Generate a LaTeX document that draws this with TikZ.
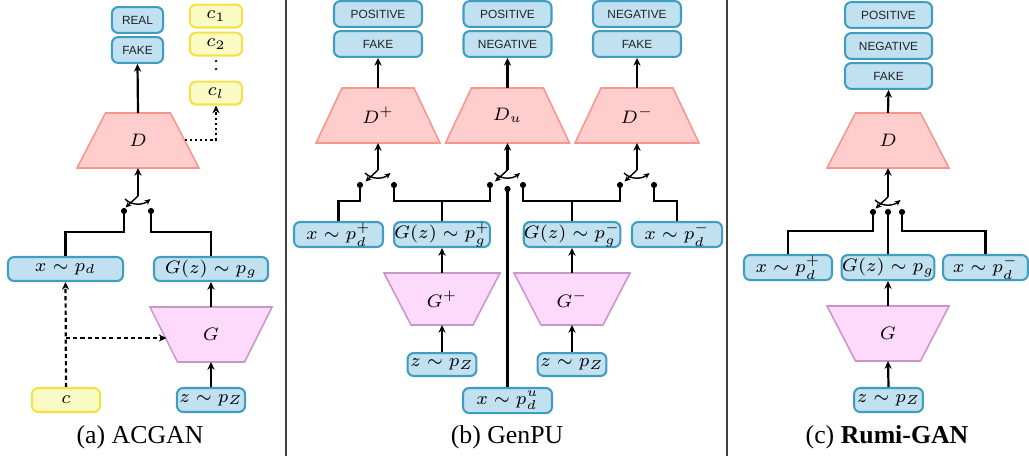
\documentclass[tikz,border=0pt]{standalone}
\usepackage[no-math]{fontspec}
\setmainfont{Liberation Serif}
\newfontfamily\labfont{Liberation Sans}
\usetikzlibrary{arrows.meta,calc}
\definecolor{bfill}{HTML}{C2E1F0}
\definecolor{bdraw}{HTML}{3E9DC0}
\definecolor{yfill}{HTML}{FAFAC4}
\definecolor{ydraw}{HTML}{F5E04A}
\definecolor{dfill}{HTML}{FFCDCB}
\definecolor{ddraw}{HTML}{F8968E}
\definecolor{gfill}{HTML}{FDDAFC}
\definecolor{gdraw}{HTML}{C896C8}
\definecolor{txt}{HTML}{222222}
\newcommand\mytrap[6]{\path[#1] (#2-#4,#3) -- (#2+#4,#3) -- (#2+#5,#6) -- (#2-#5,#6) -- cycle;}
\newcommand\myswitch[1]{%
  \draw[lev] (#1) -- ($(#1)+(-12.5,11.5)$);
  \draw[lev] ($(#1)+(-13,3)$) .. controls ($(#1)+(-6,10)$) and ($(#1)+(5,9)$) .. ($(#1)+(12.5,3)$);}
\newcommand\mydot[1]{\fill (#1) circle[radius=1.2pt];}
\begin{document}
\begin{tikzpicture}[x=0.3876pt,y=-0.3876pt,
  boxbase/.style={line width=0.8pt,rounded corners=2.4pt,inner sep=0pt},
  blab/.style={boxbase,draw=bdraw,fill=bfill,minimum height=10pt,minimum width=#1,text=txt,font=\labfont\fontsize{4.6}{5}\selectfont},
  bmath/.style={boxbase,draw=bdraw,fill=bfill,minimum height=9.3pt,minimum width=#1,font=\fontsize{7}{8.5}\selectfont},
  ybox/.style={boxbase,draw=ydraw,fill=yfill,minimum height=8.9pt,minimum width=#1,font=\fontsize{7}{8.5}\selectfont},
  mlab/.style={font=\fontsize{7}{8.5}\selectfont,inner sep=0pt},
  dstyle/.style={draw=ddraw,fill=dfill,line width=0.6pt},
  gstyle/.style={draw=gdraw,fill=gfill,line width=0.6pt},
  wire/.style={line width=0.85pt},
  arr/.style={wire,-{Stealth[length=3pt,width=2.8pt]}},
  lev/.style={line width=0.55pt,-{Stealth[length=2.3pt,width=2.1pt]}},
  dsh/.style={dash pattern=on 1.6pt off 1.2pt},
  dtt/.style={dash pattern=on 0.9pt off 1.1pt},
  vdt/.style={line width=1pt,dash pattern=on 0pt off 3.1pt,line cap=round},
  divider/.style={line width=0.45pt,draw=black!75},
  captxt/.style={font=\fontsize{10}{12}\selectfont,inner sep=0pt}]
\useasboundingbox (0,0) rectangle (1029,459);

% dividers
\coordinate (v1t) at (286,0); \coordinate (v1b) at (286,456);
\coordinate (v2t) at (727,0); \coordinate (v2b) at (727,456);
\draw[divider] (v1t) -- (v1b);
\draw[divider] (v2t) -- (v2b);

% ================= (a) ACGAN =================
\node[blab=19.8pt] (aReal) at (137.5,20) {REAL};
\node[blab=19.8pt] (aFake) at (137.5,50) {FAKE};
\node[ybox=20.2pt] (ac1) at (216,16) {$c_1$};
\node[ybox=20.2pt] (ac2) at (216,44) {$c_2$};
\node[ybox=20.2pt] (acl) at (216,93) {$c_l$};
\draw[vdt,shorten <=1.75pt,shorten >=1.75pt] (ac2.south) -- (acl.north);
\mytrap{dstyle}{138}{113}{32.5}{61}{168}
\node[mlab] (aD) at (138,140.5) {$D$};
\coordinate (aDtop) at (138,113); \coordinate (aDbot) at (138,168);
\draw[arr] (aDtop) -- (aFake.south);
\coordinate (aDr) at (184.5,140);
\draw[dtt,arr] (aDr) -| (acl.south);
\coordinate (aP) at (138,196);
\draw[arr] (aP) -- (aDbot);
\myswitch{aP}
\coordinate (aL) at (124,211); \coordinate (aR) at (151,211);
\mydot{aL} \mydot{aR}
\node[bmath=44.6pt] (axd) at (65.5,269) {$x\sim p_d$};
\node[bmath=44.2pt] (agz) at (211,269) {$G(z)\sim p_g$};
\draw[wire] (aL) -- ++(0,21) -| (axd.north);
\draw[wire] (aR) -- ++(0,21) -| (agz.north);
\mytrap{gstyle}{211}{307}{61}{33.5}{362}
\node[mlab] (aG) at (211,334.5) {$G$};
\coordinate (aGtop) at (211,307); \coordinate (aGbot) at (211,362);
\node[bmath=26.4pt] (azp) at (211,400) {$z\sim p_Z$};
\node[ybox=26.4pt,minimum height=9.3pt] (ac) at (66,400) {$c$};
\draw[arr] (aGtop) -- (agz.south);
\draw[arr] (azp.north) -- (aGbot);
\draw[dsh,arr] (ac.north) -- (axd.south);
\coordinate (aBr) at (66,338); \coordinate (aGl) at (166.5,338);
\draw[dsh,arr] (aBr) -- (aGl);
\node[captxt] (capA) at (140,437) {(a) ACGAN};

% ================= (b) GenPU =================
\node[blab=34.1pt] (bP1) at (378,14) {POSITIVE};
\node[blab=34.1pt] (bF1) at (378,44) {FAKE};
\node[blab=34.1pt] (bP2) at (507.5,14) {POSITIVE};
\node[blab=34.1pt] (bN2) at (507.5,44) {NEGATIVE};
\node[blab=34.1pt] (bN3) at (637,14) {NEGATIVE};
\node[blab=34.1pt] (bF3) at (637,44) {FAKE};
\mytrap{dstyle}{378}{88}{36}{62}{143}
\mytrap{dstyle}{507.5}{88}{36}{62}{143}
\mytrap{dstyle}{637}{88}{36}{62}{143}
\node[mlab] (bDp) at (378,115.5) {$D^{+}$};
\node[mlab] (bDu) at (507.5,115.5) {$D_{u}$};
\node[mlab] (bDm) at (637,115.5) {$D^{-}$};
\coordinate (bDpt) at (378,88); \coordinate (bDpb) at (378,143);
\coordinate (bDut) at (507.5,88); \coordinate (bDub) at (507.5,143);
\coordinate (bDmt) at (637,88); \coordinate (bDmb) at (637,143);
\draw[arr] (bDpt) -- (bF1.south);
\draw[arr] (bDut) -- (bN2.south);
\draw[arr] (bDmt) -- (bF3.south);
\coordinate (bP) at (378,170); \coordinate (bQ) at (507.5,170); \coordinate (bR) at (637,170);
\draw[arr] (bP) -- (bDpb);
\draw[arr] (bQ) -- (bDub);
\draw[arr] (bR) -- (bDmb);
\myswitch{bP} \myswitch{bQ} \myswitch{bR}
\coordinate (b1) at (360,185); \coordinate (b2) at (394,185);
\coordinate (b3) at (490,185); \coordinate (b4) at (507.5,189); \coordinate (b5) at (523,185);
\coordinate (b6) at (620,185); \coordinate (b7) at (654,185);
\mydot{b1} \mydot{b2} \mydot{b3} \mydot{b4} \mydot{b5} \mydot{b6} \mydot{b7}
\node[bmath=34.5pt,minimum height=9.7pt] (bxdp) at (338.5,234.5) {$x\sim p_d^{+}$};
\node[bmath=34.9pt,minimum height=9.7pt] (bgzp) at (442,234.5) {$G(z)\sim p_g^{+}$};
\node[bmath=34.5pt,minimum height=9.7pt] (bgzm) at (572,234.5) {$G(z)\sim p_g^{-}$};
\node[bmath=34.9pt,minimum height=9.7pt] (bxdm) at (677,234.5) {$x\sim p_d^{-}$};
\draw[wire] (b1) -- ++(0,16) -| (bxdp.north);
\draw[wire] (b2) -- ++(0,16) -| (b3);
\draw[wire] (b5) -- ++(0,16) -| (b6);
\draw[wire] (b7) -- ++(0,16) -| (bxdm.north);
\coordinate (bj1) at (442,201); \coordinate (bj2) at (572,201);
\draw[wire] (bgzp.north) -- (bj1);
\draw[wire] (bgzm.north) -- (bj2);
\mytrap{gstyle}{442}{273}{58}{31}{325}
\mytrap{gstyle}{572}{273}{58}{31}{325}
\node[mlab] (bGp) at (442,299) {$G^{+}$};
\node[mlab] (bGm) at (572,299) {$G^{-}$};
\coordinate (bGpt) at (442,273); \coordinate (bGpb) at (442,325);
\coordinate (bGmt) at (572,273); \coordinate (bGmb) at (572,325);
\draw[arr] (bGpt) -- (bgzp.south);
\draw[arr] (bGmt) -- (bgzm.south);
\node[bmath=26.7pt,minimum height=8.9pt] (bzp1) at (442,364.5) {$z\sim p_Z$};
\node[bmath=26.7pt,minimum height=8.9pt] (bzp2) at (572,364.5) {$z\sim p_Z$};
\draw[arr] (bzp1.north) -- (bGpb);
\draw[arr] (bzp2.north) -- (bGmb);
\node[bmath=34.5pt,minimum height=9.7pt] (bxdu) at (507.5,400.5) {$x\sim p_d^{u}$};
\draw[wire] (b4) -- (bxdu.north);
\node[captxt] (capB) at (507,437) {(b) GenPU};

% ================= (c) Rumi-GAN =================
\node[blab=33.7pt] (cP) at (888.5,15) {POSITIVE};
\node[blab=33.7pt] (cN) at (888.5,46) {NEGATIVE};
\node[blab=33.7pt] (cF) at (888.5,76) {FAKE};
\mytrap{dstyle}{888}{113}{32.5}{61}{168}
\node[mlab] (cD) at (888,140.5) {$D$};
\coordinate (cDt) at (888,113); \coordinate (cDb) at (888,168);
\draw[arr] (cDt) -- (cF.south);
\coordinate (cS) at (888,197);
\draw[arr] (cS) -- (cDb);
\myswitch{cS}
\coordinate (c1) at (873,212); \coordinate (c2) at (888,212); \coordinate (c3) at (902,212);
\mydot{c1} \mydot{c2} \mydot{c3}
\node[bmath=34.1pt,minimum height=9.7pt] (cxdp) at (788,267.5) {$x\sim p_d^{+}$};
\node[bmath=36pt,minimum height=9.7pt] (cgz) at (888,267.5) {$G(z)\sim p_g$};
\node[bmath=32.9pt,minimum height=9.7pt] (cxdm) at (985.5,267.5) {$x\sim p_d^{-}$};
\draw[wire] (c1) -- ++(0,19) -| (cxdp.north);
\draw[wire] (c2) -- (cgz.north);
\draw[wire] (c3) -- ++(0,19) -| (cxdm.north);
\mytrap{gstyle}{888}{306}{61}{32.5}{361}
\node[mlab] (cG) at (888,333.5) {$G$};
\coordinate (cGt) at (888,306); \coordinate (cGb) at (888,361);
\draw[arr] (cGt) -- (cgz.south);
\node[bmath=26.7pt] (czp) at (888.5,400) {$z\sim p_Z$};
\draw[arr] (czp.north) -- (cGb);
\node[captxt] (capC) at (887,437) {(c) \textbf{Rumi-GAN}};
\end{tikzpicture}
\end{document}
